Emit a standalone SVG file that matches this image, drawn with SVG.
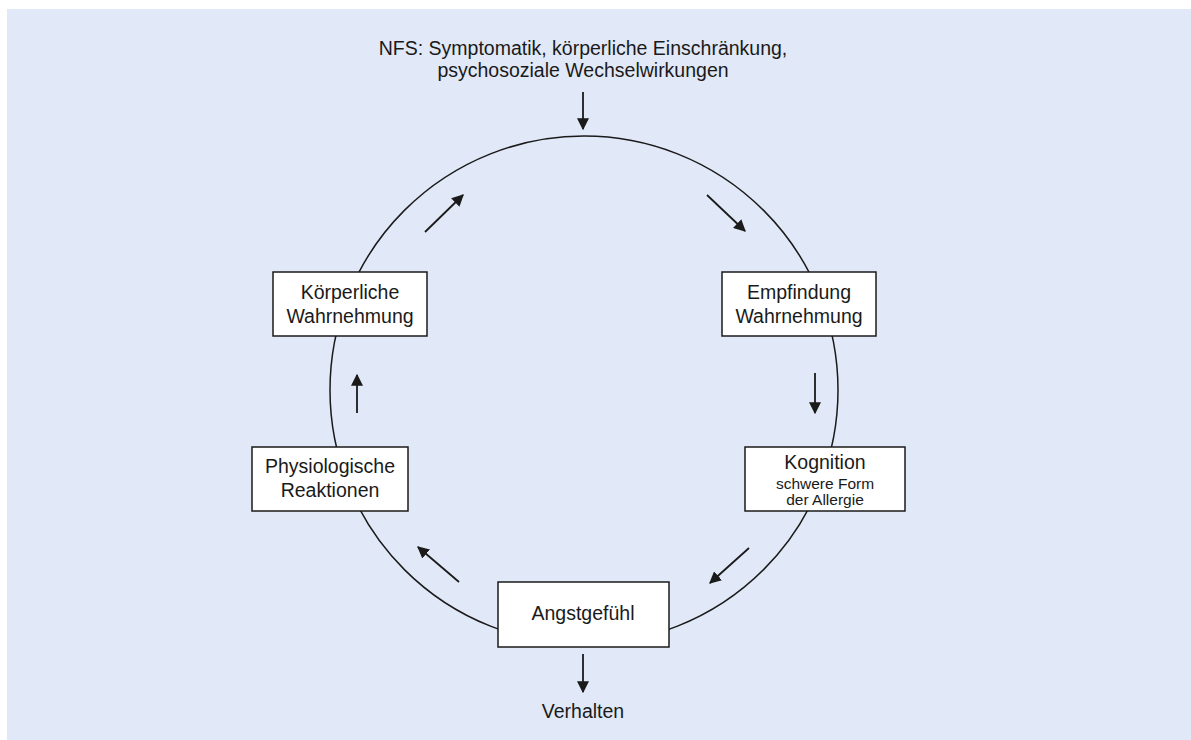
<svg xmlns="http://www.w3.org/2000/svg" width="1191" height="740" viewBox="0 0 1191 740">
  <style>
    .bg { fill: #e1e8f7; }
    .ring { fill: none; stroke: #1a1a1a; stroke-width: 1.5; }
    .box { fill: #ffffff; stroke: #1a1a1a; stroke-width: 1.5; }
    .arrow { fill: none; stroke: #1a1a1a; stroke-width: 1.8; marker-end: url(#head); }
    text { font-family: "Liberation Sans", Arial, sans-serif; fill: #1a1a1a; text-anchor: middle; }
    .lbl { font-size: 19.5px; }
    .small { font-size: 15.5px; }
  </style>
  <defs>
    <marker id="head" viewBox="0 0 10 10" refX="9" refY="5" markerWidth="12" markerHeight="12" markerUnits="userSpaceOnUse" orient="auto">
      <path d="M0,0 L10,5 L0,10 Z" fill="#1a1a1a"/>
    </marker>
  </defs>

  <rect class="bg" x="7" y="9" width="1184" height="731"/>

  <!-- cycle ring -->
  <circle class="ring" cx="584" cy="390" r="254"/>

  <!-- heading text -->
  <text class="lbl" x="583" y="55">NFS: Symptomatik, körperliche Einschränkung,</text>
  <text class="lbl" x="583" y="77">psychosoziale Wechselwirkungen</text>

  <g id="connectors">
    <line class="arrow" x1="583" y1="92" x2="583" y2="129"/>
    <line class="arrow" x1="707" y1="195" x2="745" y2="231"/>
    <line class="arrow" x1="815" y1="373" x2="815" y2="413"/>
    <line class="arrow" x1="749" y1="548" x2="710" y2="583"/>
    <line class="arrow" x1="583" y1="654" x2="583" y2="692"/>
    <line class="arrow" x1="459" y1="582" x2="418" y2="547"/>
    <line class="arrow" x1="357" y1="413" x2="357" y2="375"/>
    <line class="arrow" x1="425" y1="232" x2="463" y2="195"/>
  </g>

  <g id="node-empfindung">
    <rect class="box" x="722" y="272" width="154" height="64"/>
    <text class="lbl" x="799" y="299">Empfindung</text>
    <text class="lbl" x="799" y="323">Wahrnehmung</text>
  </g>

  <g id="node-kognition">
    <rect class="box" x="745" y="447" width="160" height="64"/>
    <text class="lbl" x="825" y="469">Kognition</text>
    <text class="small" x="825" y="489">schwere Form</text>
    <text class="small" x="825" y="505">der Allergie</text>
  </g>

  <g id="node-angst">
    <rect class="box" x="498" y="582" width="171" height="65"/>
    <text class="lbl" x="583" y="620">Angstgefühl</text>
  </g>

  <g id="node-physio">
    <rect class="box" x="252" y="447" width="156" height="64"/>
    <text class="lbl" x="330" y="473">Physiologische</text>
    <text class="lbl" x="330" y="497">Reaktionen</text>
  </g>

  <g id="node-koerper">
    <rect class="box" x="273" y="272" width="154" height="64"/>
    <text class="lbl" x="350" y="299">Körperliche</text>
    <text class="lbl" x="350" y="323">Wahrnehmung</text>
  </g>

  <g id="node-verhalten">
    <text class="lbl" x="583" y="718">Verhalten</text>
  </g>
</svg>
